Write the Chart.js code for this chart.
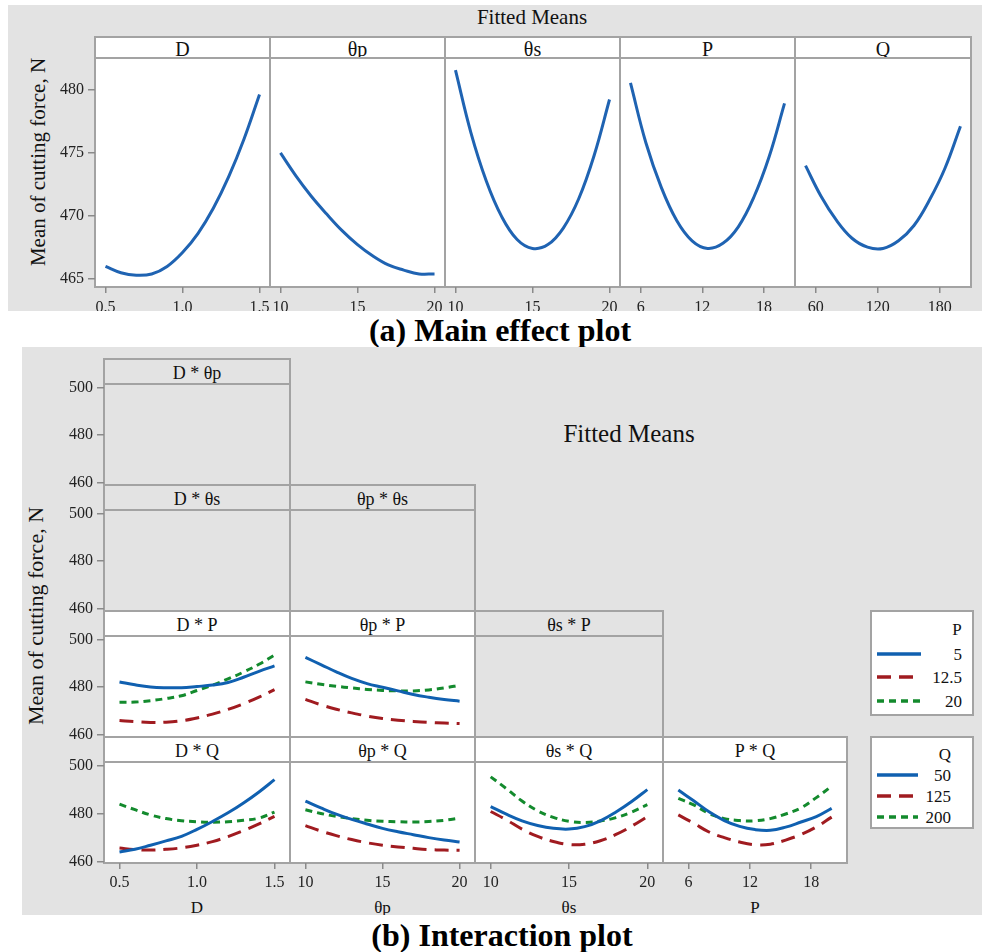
<!DOCTYPE html>
<html>
<head>
<meta charset="utf-8">
<script src="https://cdn.jsdelivr.net/npm/chart.js@4.4.0/dist/chart.umd.min.js"></script>
<style>
  body { margin: 0; background: #fff; font-family: "Liberation Serif", serif; }
  #page { position: relative; width: 985px; height: 952px; overflow: hidden; background: #fff; }
  .bg { position: absolute; background: #e3e3e3; overflow: hidden; }
  .box { position: absolute; box-sizing: border-box; border: 2px solid #a3a3a3; }
  .txt { position: absolute; white-space: nowrap; color: #111; transform: translate(-50%, -50%); line-height: 1; }
  canvas { position: absolute; }
</style>
</head>
<body>
<div id="page"></div>
<script>
// factor levels (x positions of the fitted points)
const dLevels  = [0.5, 0.6, 0.7, 0.8, 0.9, 1.0, 1.1, 1.2, 1.3, 1.4, 1.5];
const tpLevels = [10, 11, 12, 13, 14, 15, 16, 17, 18, 19, 20];
const tsLevels = [10, 11, 12, 13, 14, 15, 16, 17, 18, 19, 20];
const pLevels  = [5, 6.5, 8, 9.5, 11, 12.5, 14, 15.5, 17, 18.5, 20];
const qLevels  = [50, 65, 80, 95, 110, 125, 140, 155, 170, 185, 200];

// tick labels
const dTicks  = [0.5, 1.0, 1.5];
const tpTicks = [10, 15, 20];
const tsTicks = [10, 15, 20];
const pTicks  = [6, 12, 18];
const qTicks  = [60, 120, 180];
const mainYTicks  = [465, 470, 475, 480];
const interYTicks = [460, 480, 500];

// (a) main effects - fitted mean cutting force, N
const mainD  = [466.0, 465.5, 465.3, 465.4, 466.0, 467.1, 468.6, 470.6, 473.1, 476.1, 479.6];
const mainTp = [474.9, 473.1, 471.5, 470.1, 468.8, 467.7, 466.8, 466.1, 465.7, 465.4, 465.4];
const mainTs = [481.4, 476.5, 472.7, 469.9, 468.1, 467.4, 467.7, 469.0, 471.3, 474.7, 479.1];
const mainP  = [480.4, 475.7, 472.2, 469.6, 468.0, 467.4, 467.8, 469.1, 471.4, 474.6, 478.8];
const mainQ  = [473.9, 471.5, 469.6, 468.2, 467.5, 467.4, 468.0, 469.2, 471.2, 473.7, 477.0];

// (b) interactions, one array per level of the second factor
const pLegend = ['5', '12.5', '20'];
const qLegend = ['50', '125', '200'];

const dP5    = [482.2, 481.0, 480.1, 479.8, 479.8, 480.3, 480.9, 482.0, 484.2, 486.7, 489.0];
const dP12_5 = [465.9, 465.4, 465.1, 465.2, 465.8, 467.0, 468.6, 470.6, 473.0, 475.8, 479.0];
const dP20   = [473.6, 473.7, 474.3, 475.2, 476.4, 478.6, 480.9, 483.5, 486.4, 489.7, 493.6];

const tpP5    = [492.2, 489.3, 486.3, 483.6, 481.5, 480.0, 478.5, 477.0, 475.9, 475.0, 474.3];
const tpP12_5 = [475.0, 472.8, 471.0, 469.5, 468.2, 467.2, 466.5, 466.0, 465.6, 465.3, 465.1];
const tpP20   = [482.2, 481.2, 480.4, 479.7, 479.1, 478.7, 478.5, 478.5, 478.9, 479.7, 480.8];

const dQ50  = [464.2, 465.3, 467.0, 468.8, 470.7, 473.6, 476.9, 480.5, 484.6, 489.2, 494.3];
const dQ125 = [465.8, 465.2, 465.0, 465.3, 465.9, 467.0, 468.5, 470.6, 473.1, 475.9, 479.0];
const dQ200 = [484.1, 481.8, 479.6, 478.1, 477.2, 476.8, 476.6, 476.8, 477.4, 478.3, 480.8];

const tpQ50  = [485.0, 482.2, 479.6, 477.5, 475.6, 473.8, 472.4, 471.2, 470.0, 469.0, 468.2];
const tpQ125 = [474.9, 472.7, 470.8, 469.2, 467.9, 466.9, 466.2, 465.6, 465.1, 464.9, 464.8];
const tpQ200 = [481.4, 479.9, 478.7, 477.8, 477.1, 476.7, 476.5, 476.4, 476.6, 477.1, 478.0];

const tsQ50  = [482.7, 479.6, 476.9, 475.0, 473.8, 473.5, 474.5, 476.9, 480.5, 484.8, 489.7];
const tsQ125 = [480.7, 477.3, 473.5, 470.5, 468.4, 467.2, 467.3, 468.7, 471.3, 474.7, 478.6];
const tsQ200 = [494.9, 490.1, 485.0, 481.0, 478.3, 476.7, 476.2, 476.8, 478.2, 480.5, 483.5];

const pQ50  = [489.5, 485.1, 480.6, 477.0, 474.6, 473.3, 473.0, 474.3, 476.4, 478.6, 482.0];
const pQ125 = [479.3, 475.9, 472.3, 470.0, 468.2, 467.1, 467.3, 469.0, 471.3, 474.4, 478.4];
const pQ200 = [486.1, 483.4, 479.9, 477.8, 477.0, 476.9, 477.8, 479.7, 482.2, 486.4, 491.1];

const BLUE = '#1060b0', RED = '#a01b20', GREEN = '#138a2d';
const SOLID = [], LONG = [14, 8], SHORT = [7, 5];
const FONT = 'Liberation Serif';

const page = document.getElementById('page');
page.ox = 0; page.oy = 0;

function section(x, y, w, h) {
  const d = document.createElement('div');
  d.className = 'bg';
  Object.assign(d.style, { left: x + 'px', top: y + 'px', width: w + 'px', height: h + 'px' });
  d.ox = x; d.oy = y;
  page.appendChild(d);
  return d;
}

function box(parent, x, y, w, h, fill) {
  const d = document.createElement('div');
  d.className = 'box';
  Object.assign(d.style, {
    left: (x - 1 - parent.ox) + 'px', top: (y - 1 - parent.oy) + 'px',
    width: (w + 2) + 'px', height: (h + 2) + 'px',
    background: fill ? '#fff' : 'transparent'
  });
  parent.appendChild(d);
  return d;
}

function text(parent, s, x, y, size, extra) {
  const d = document.createElement('div');
  d.className = 'txt';
  d.textContent = s;
  Object.assign(d.style, { left: (x - parent.ox) + 'px', top: (y - parent.oy) + 'px', fontSize: size + 'px' }, extra || {});
  parent.appendChild(d);
  return d;
}

function header(parent, s, x, y, w, h, fill, size) {
  box(parent, x, y, w, h, fill);
  text(parent, s, x + w / 2, y + h / 2 + 1, size);
}

const PAD = 12, YW = 60, XH = 34;

// one panel = one chart whose chart area sits exactly on (left, top, w, h)
function panel(parent, o) {
  const cv = document.createElement('canvas');
  const padL = PAD + (o.showY ? YW : 0);
  const padB = PAD + (o.showX ? XH : 0);
  cv.width = o.w + padL + PAD;
  cv.height = o.h + PAD + padB;
  cv.style.left = (o.left - padL - parent.ox) + 'px';
  cv.style.top = (o.top - PAD - parent.oy) + 'px';
  cv.style.zIndex = 2;
  parent.appendChild(cv);

  new Chart(cv, {
    type: 'line',
    data: {
      datasets: (o.series || []).map(s => ({
        data: s.xs.map((x, i) => ({ x: x, y: s.ys[i] })),
        borderColor: s.color,
        borderWidth: o.lw || 3,
        borderDash: s.dash,
        pointRadius: 0,
        tension: 0.4,
        fill: false
      }))
    },
    options: {
      responsive: false,
      animation: false,
      devicePixelRatio: 1,
      layout: { padding: { left: PAD, right: PAD, top: PAD, bottom: PAD }, autoPadding: false },
      plugins: { legend: { display: false }, tooltip: { enabled: false } },
      scales: {
        x: {
          type: 'linear', min: o.x.min, max: o.x.max, display: !!o.showX,
          afterBuildTicks: s => { s.ticks = o.x.ticks.map(v => ({ value: v })); },
          afterFit: s => { if (o.showX) s.height = XH; },
          grid: { drawOnChartArea: false, tickLength: 6, color: '#8a8a8a', lineWidth: 1.5 },
          border: { display: false },
          ticks: {
            padding: o.xPad || 4, maxRotation: 0, autoSkip: false, color: '#222',
            font: { family: FONT, size: 16 },
            callback: o.x.fmt || (v => String(v))
          }
        },
        y: {
          type: 'linear', min: o.y.min, max: o.y.max, display: !!o.showY,
          afterBuildTicks: s => { s.ticks = o.y.ticks.map(v => ({ value: v })); },
          afterFit: s => { if (o.showY) s.width = YW; },
          grid: { drawOnChartArea: false, tickLength: 7, color: '#8a8a8a', lineWidth: 1.5 },
          border: { display: false },
          ticks: { padding: 4, color: '#222', font: { family: FONT, size: 16 }, callback: v => String(v) }
        }
      }
    }
  });
}

/* ---------- (a) Main effect plot ---------- */
const secA = section(8, 5, 974, 306);
text(secA, 'Fitted Means', 532, 17, 21);
text(secA, 'Mean of cutting force, N', 38, 162, 21, { transform: 'translate(-50%,-50%) rotate(-90deg)' });

const aCols = [95, 270, 445, 620, 795, 971];
const aHdrTop = 37, aTop = 58, aBot = 287;
const aY = { min: 464.37, max: 482.36, ticks: mainYTicks };
const mainPanels = [
  { name: 'D',  xs: dLevels,  ys: mainD,  x: { min: 0.432, max: 1.568, ticks: dTicks, fmt: v => v.toFixed(1) } },
  { name: 'θp', xs: tpLevels, ys: mainTp, x: { min: 9.32, max: 20.68, ticks: tpTicks } },
  { name: 'θs', xs: tsLevels, ys: mainTs, x: { min: 9.32, max: 20.68, ticks: tsTicks } },
  { name: 'P',  xs: pLevels,  ys: mainP,  x: { min: 3.98, max: 21.02, ticks: pTicks } },
  { name: 'Q',  xs: qLevels,  ys: mainQ,  x: { min: 39.8, max: 210.2, ticks: qTicks } }
];
mainPanels.forEach((m, i) => {
  const l = aCols[i], w = aCols[i + 1] - aCols[i];
  header(secA, m.name, l, aHdrTop, w, aTop - aHdrTop, true, 20);
  box(secA, l, aTop, w, aBot - aTop, true);
  panel(secA, {
    left: l, top: aTop, w: w, h: aBot - aTop, showX: true, showY: i === 0, xPad: 5,
    x: m.x, y: aY, lw: 3,
    series: [{ xs: m.xs, ys: m.ys, color: '#1f63b2', dash: SOLID }]
  });
});

text(page, '(a) Main effect plot', 500, 330, 32, { fontWeight: 'bold', color: '#000' });

/* ---------- (b) Interaction plot ---------- */
const secB = section(22, 347, 960, 568);
text(secB, 'Fitted Means', 629, 433, 25);
text(secB, 'Mean of cutting force, N', 36, 616, 22, { transform: 'translate(-50%,-50%) rotate(-90deg)' });

const bCols = [104, 290, 475, 663, 847];
const bRows = [359, 485, 611, 737];
const HH = 25, PH = 101;
const bY = { min: 459.6, max: 501, ticks: interYTicks };
const xD  = { min: 0.4, max: 1.6, ticks: dTicks, fmt: v => v.toFixed(1) };
const xTp = { min: 9, max: 21, ticks: tpTicks };
const xTs = { min: 9, max: 21, ticks: tsTicks };
const xP  = { min: 3.5, max: 21.5, ticks: pTicks };

const bySeries = (xs, a, b, c) => [
  { xs: xs, ys: a, color: BLUE,  dash: SOLID },
  { xs: xs, ys: b, color: RED,   dash: LONG },
  { xs: xs, ys: c, color: GREEN, dash: SHORT }
];

const cells = [
  { r: 0, c: 0, name: 'D * θp',  x: xD },
  { r: 1, c: 0, name: 'D * θs',  x: xD },
  { r: 1, c: 1, name: 'θp * θs', x: xTp },
  { r: 2, c: 0, name: 'D * P',   x: xD,  series: bySeries(dLevels, dP5, dP12_5, dP20) },
  { r: 2, c: 1, name: 'θp * P',  x: xTp, series: bySeries(tpLevels, tpP5, tpP12_5, tpP20) },
  { r: 2, c: 2, name: 'θs * P',  x: xTs },
  { r: 3, c: 0, name: 'D * Q',   x: xD,  series: bySeries(dLevels, dQ50, dQ125, dQ200) },
  { r: 3, c: 1, name: 'θp * Q',  x: xTp, series: bySeries(tpLevels, tpQ50, tpQ125, tpQ200) },
  { r: 3, c: 2, name: 'θs * Q',  x: xTs, series: bySeries(tsLevels, tsQ50, tsQ125, tsQ200) },
  { r: 3, c: 3, name: 'P * Q',   x: xP,  series: bySeries(pLevels, pQ50, pQ125, pQ200) }
];

cells.forEach(cell => {
  const l = bCols[cell.c], w = bCols[cell.c + 1] - l;
  const top = bRows[cell.r] + HH;
  const hasData = !!cell.series;
  header(secB, cell.name, l, bRows[cell.r], w, HH, hasData, 18);
  box(secB, l, top, w, PH, hasData);
  if (hasData || cell.c === 0) {
    panel(secB, {
      left: l, top: top, w: w, h: PH,
      showY: cell.c === 0, showX: cell.r === 3,
      x: cell.x, y: bY, series: cell.series || [], lw: 3
    });
  }
});

// axis titles under the bottom row
['D', 'θp', 'θs', 'P'].forEach((s, i) => {
  text(secB, s, (bCols[i] + bCols[i + 1]) / 2, 907, 17);
});

// legends
function legend(title, titleX, titleY, labels, rows, labelRight, lineEnd, x, y, w, h) {
  box(secB, x, y, w, h, true).style.zIndex = 3;
  const t = text(secB, title, titleX, titleY, 17);
  t.style.zIndex = 4;
  const svgNS = 'http://www.w3.org/2000/svg';
  const svg = document.createElementNS(svgNS, 'svg');
  svg.setAttribute('width', w);
  svg.setAttribute('height', h);
  Object.assign(svg.style, { position: 'absolute', left: (x - secB.ox) + 'px', top: (y - secB.oy) + 'px', zIndex: 4 });
  const cols = [BLUE, RED, GREEN], dashes = [SOLID, LONG, SHORT];
  labels.forEach((lab, i) => {
    const ln = document.createElementNS(svgNS, 'line');
    ln.setAttribute('x1', 877 - x);
    ln.setAttribute('x2', lineEnd - x);
    ln.setAttribute('y1', rows[i] - y);
    ln.setAttribute('y2', rows[i] - y);
    ln.setAttribute('stroke', cols[i]);
    ln.setAttribute('stroke-width', 3.5);
    if (dashes[i].length) ln.setAttribute('stroke-dasharray', dashes[i].join(' '));
    svg.appendChild(ln);
    const tl = text(secB, lab, labelRight, rows[i], 17, { transform: 'translate(-100%,-50%)' });
    tl.style.zIndex = 4;
  });
  secB.appendChild(svg);
}
legend('P', 957, 629, pLegend, [654, 677, 701], 962, 921, 871, 611, 102, 104);
legend('Q', 945, 754, qLegend, [775, 796, 817], 951, 918, 871, 737, 102, 91);

text(page, '(b) Interaction plot', 502, 935, 32, { fontWeight: 'bold', color: '#000' });
</script>
</body>
</html>
